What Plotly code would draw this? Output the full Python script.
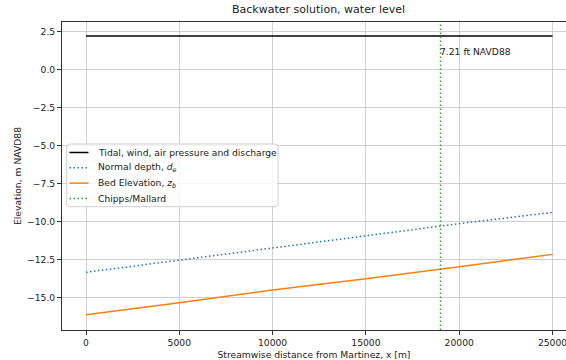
import plotly.graph_objects as go

# Streamwise stations along the reach [m]
distance_m = [0, 5000, 10000, 15000, 20000, 25000]
# Water surface (tidal, wind, air pressure and discharge) [m NAVD88]
water_level_m = [2.198, 2.198, 2.198, 2.198, 2.198, 2.198]
# Normal depth profile [m NAVD88]
normal_depth_m = [-13.33, -12.52, -11.71, -10.94, -10.13, -9.39]
# Bed elevation [m NAVD88]
bed_elev_m = [-16.12, -15.33, -14.49, -13.75, -12.96, -12.15]
# Chipps/Mallard station
chipps_x = 19000
stage_label = "7.21 ft NAVD88"
stage_label_y = 1.17

series_names = [
    "Tidal, wind, air pressure and discharge",
    "Normal depth, <i>d</i><sub><i>e</i></sub>",
    "Bed Elevation, <i>z</i><sub><i>b</i></sub>",
    "Chipps/Mallard",
]
series_colors = ["black", "#1f77b4", "#ff7f0e", "#2ca02c"]
DOTTED = "1.5px,2.5px"
series_dash = ["solid", DOTTED, "solid", DOTTED]

x_range = [-1286, 25723]
y_range = [-17.12, 3.12]

W, H = 566, 360
ML, MR, MT, MB = 62, 0, 22, 30
PW, PH = W - ML - MR, H - MT - MB

FONT = "DejaVu Sans, Liberation Sans, sans-serif"
TXT = "#222222"
FS = 9.2


def fx(px):
    return (px - ML) / PW


def fy(py):
    return (H - MB - py) / PH


fig = go.Figure()
for xs, ys, k in [(distance_m, water_level_m, 0),
                  (distance_m, normal_depth_m, 1),
                  (distance_m, bed_elev_m, 2)]:
    fig.add_trace(go.Scatter(
        x=xs, y=ys, mode="lines", name=series_names[k], showlegend=False,
        line=dict(color=series_colors[k], width=1.5, dash=series_dash[k])))

# vertical station marker spanning the full axes height
fig.add_shape(type="line", xref="x", yref="paper",
              x0=chipps_x, x1=chipps_x, y0=0, y1=1,
              line=dict(color=series_colors[3], width=1.5, dash=DOTTED))

fig.add_annotation(x=chipps_x, y=stage_label_y, xref="x", yref="y",
                   text=stage_label, showarrow=False,
                   xanchor="left", yanchor="middle", xshift=-3,
                   font=dict(family=FONT, size=FS, color=TXT))

# title centred on the full axes box
fig.add_annotation(x=fx(318.5), y=1, xref="paper", yref="paper",
                   xanchor="center", yanchor="bottom", yshift=4,
                   text="Backwater solution, water level", showarrow=False,
                   font=dict(family=FONT, size=11, color=TXT))

# legend box with rounded corners
x0, x1, y0, y1, r = fx(66.7), fx(278), fy(206.7), fy(144), 3
rx, ry = r / PW, r / PH
path = (f"M {x0+rx},{y1} L {x1-rx},{y1} Q {x1},{y1} {x1},{y1-ry} "
        f"L {x1},{y0+ry} Q {x1},{y0} {x1-rx},{y0} L {x0+rx},{y0} "
        f"Q {x0},{y0} {x0},{y0+ry} L {x0},{y1-ry} Q {x0},{y1} {x0+rx},{y1} Z")
fig.add_shape(type="path", xref="paper", yref="paper", path=path,
              fillcolor="rgba(255,255,255,0.8)",
              line=dict(color="#d0d0d0", width=1), layer="above")

row0, row_step = 152.5, 15.3
for i, name in enumerate(series_names):
    yy = fy(row0 + row_step * i)
    fig.add_shape(type="line", xref="paper", yref="paper",
                  x0=fx(69.5), x1=fx(88.5), y0=yy, y1=yy, layer="above",
                  line=dict(color=series_colors[i], width=1.5,
                            dash=series_dash[i]))
    fig.add_annotation(x=fx(96), y=yy, xref="paper", yref="paper",
                       text=name, showarrow=False, xanchor="left",
                       yanchor="middle",
                       font=dict(family=FONT, size=FS, color=TXT))

fig.update_layout(
    width=W, height=H,
    margin=dict(l=ML, r=MR, t=MT, b=MB),
    paper_bgcolor="white", plot_bgcolor="white",
    font=dict(family=FONT, size=FS, color=TXT),
    showlegend=False,
)

fig.update_xaxes(
    range=x_range, tickmode="array", tickvals=distance_m,
    ticktext=[str(v) for v in distance_m], ticklabeloverflow="allow",
    showgrid=True, gridcolor="#d0d0d0", gridwidth=1,
    zeroline=False, showline=True, linecolor="#333", linewidth=1,
    mirror=True, ticks="outside", ticklen=4, tickcolor="#333",
    tickfont=dict(family=FONT, size=FS, color=TXT),
    title=dict(text="Streamwise distance from Martinez, x [m]",
               font=dict(family=FONT, size=FS, color=TXT), standoff=4),
)
fig.update_yaxes(
    range=y_range, tick0=0, dtick=2.5, tickformat=".1f",
    showgrid=True, gridcolor="#d0d0d0", gridwidth=1,
    zeroline=False, showline=True, linecolor="#333", linewidth=1,
    ticks="outside", ticklen=4, tickcolor="#333",
    tickfont=dict(family=FONT, size=FS, color=TXT),
    title=dict(text="Elevation, m NAVD88",
               font=dict(family=FONT, size=FS, color=TXT), standoff=3),
)

fig.write_html("out.html")
